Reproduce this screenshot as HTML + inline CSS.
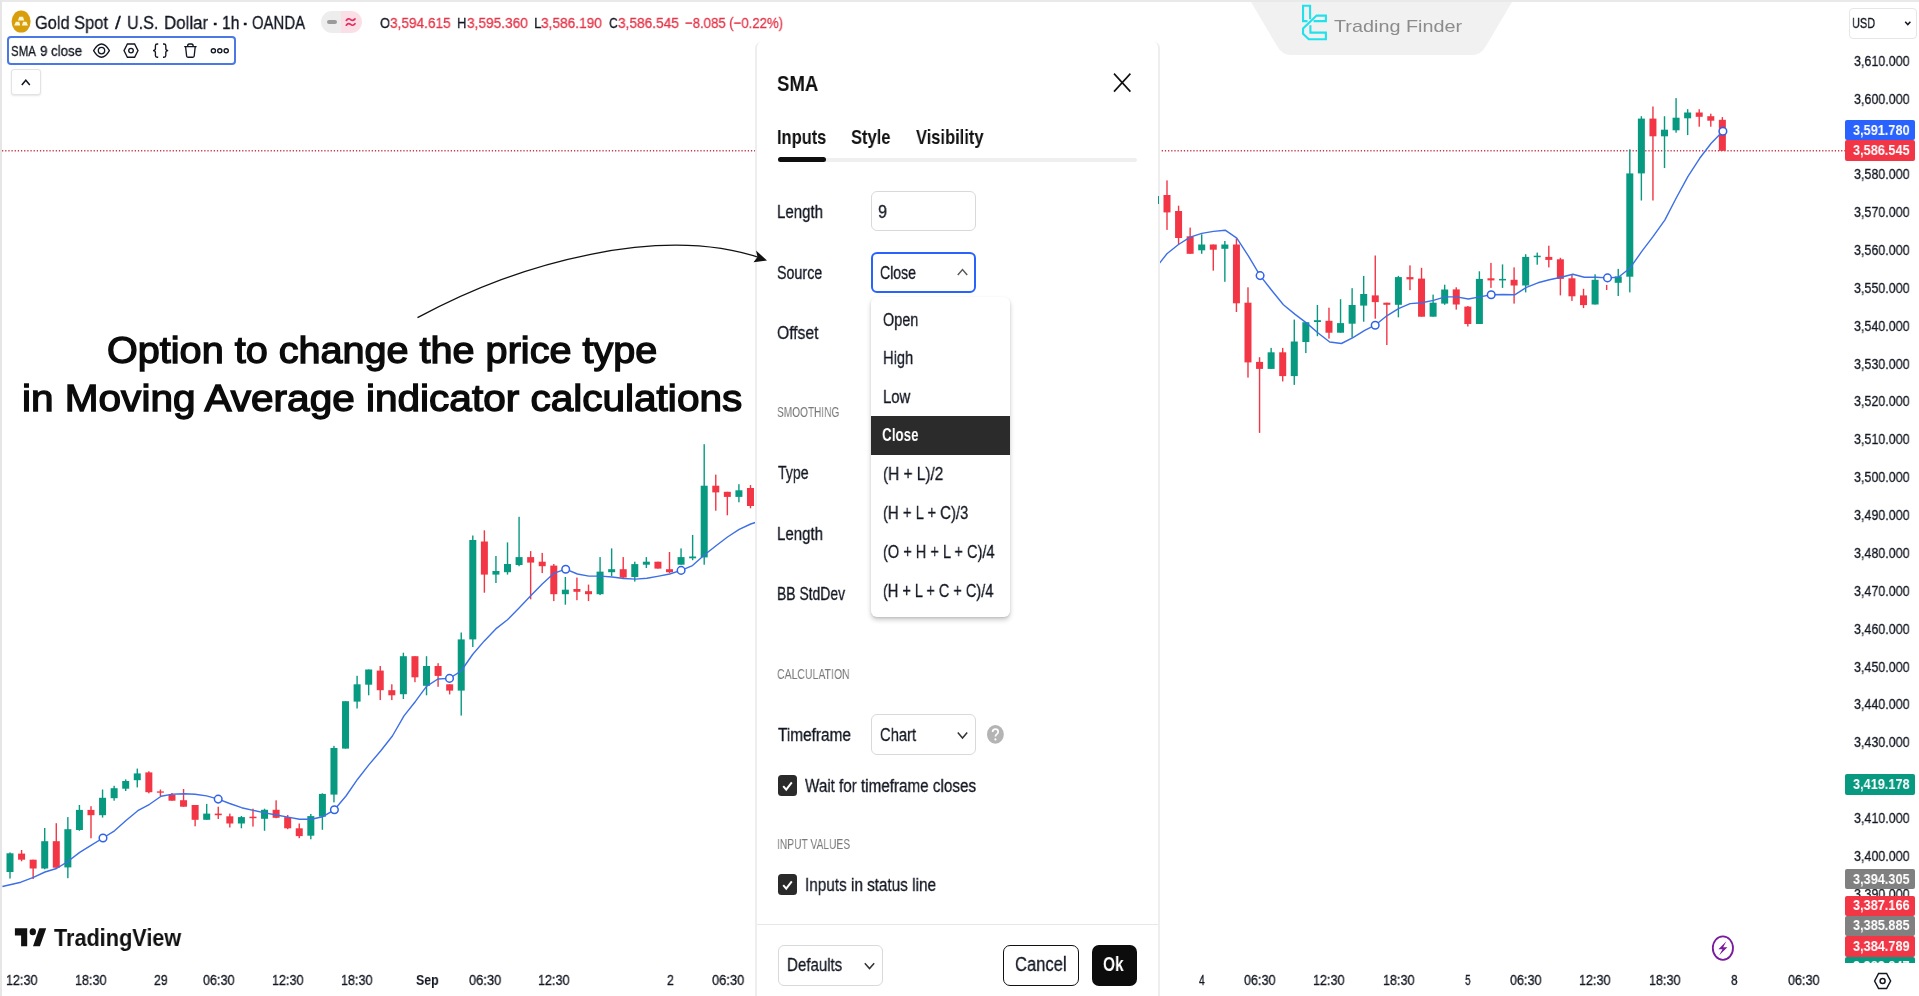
<!DOCTYPE html>
<html><head><meta charset="utf-8"><title>SMA source</title>
<style>
html,body{margin:0;padding:0;background:#fff;}
html{width:1919px;height:996px;overflow:hidden;}
body{width:1919px;height:996px;overflow:hidden;position:relative;font-family:"Liberation Sans",sans-serif;}
.abs{position:absolute;}
.t{position:absolute;white-space:pre;line-height:1;transform-origin:0 0;font-family:"Liberation Sans",sans-serif;will-change:transform;}
</style></head>
<body>
<svg class="abs" style="left:0;top:0" width="1919" height="996" viewBox="0 0 1919 996">
<line x1="2" y1="150.7" x2="1845" y2="150.7" stroke="#c9384c" stroke-width="1.6" stroke-dasharray="1.25 1.91"/>
<rect x="9.30" y="852.4" width="1.4" height="26.1" fill="#089981"/>
<rect x="6.50" y="853.3" width="7" height="18.7" fill="#089981"/>
<rect x="20.87" y="850.0" width="1.4" height="11.3" fill="#f23645"/>
<rect x="18.07" y="853.6" width="7" height="6.1" fill="#f23645"/>
<rect x="32.44" y="859.7" width="1.4" height="19.3" fill="#f23645"/>
<rect x="29.64" y="859.7" width="7" height="8.8" fill="#f23645"/>
<rect x="44.01" y="828.0" width="1.4" height="41.3" fill="#089981"/>
<rect x="41.21" y="841.2" width="7" height="27.3" fill="#089981"/>
<rect x="55.58" y="823.2" width="1.4" height="44.5" fill="#f23645"/>
<rect x="52.78" y="841.2" width="7" height="26.5" fill="#f23645"/>
<rect x="67.15" y="817.1" width="1.4" height="61.1" fill="#089981"/>
<rect x="64.35" y="829.2" width="7" height="38.2" fill="#089981"/>
<rect x="78.72" y="805.0" width="1.4" height="25.8" fill="#089981"/>
<rect x="75.92" y="809.9" width="7" height="20.1" fill="#089981"/>
<rect x="90.29" y="806.2" width="1.4" height="32.1" fill="#f23645"/>
<rect x="87.49" y="809.9" width="7" height="5.3" fill="#f23645"/>
<rect x="101.86" y="789.5" width="1.4" height="28.1" fill="#089981"/>
<rect x="99.06" y="797.8" width="7" height="17.4" fill="#089981"/>
<rect x="113.43" y="785.8" width="1.4" height="14.9" fill="#089981"/>
<rect x="110.63" y="788.2" width="7" height="10.0" fill="#089981"/>
<rect x="125.00" y="779.4" width="1.4" height="11.6" fill="#089981"/>
<rect x="122.20" y="781.0" width="7" height="7.7" fill="#089981"/>
<rect x="136.57" y="768.6" width="1.4" height="18.8" fill="#089981"/>
<rect x="133.77" y="773.4" width="7" height="6.8" fill="#089981"/>
<rect x="148.14" y="771.3" width="1.4" height="22.0" fill="#f23645"/>
<rect x="145.34" y="772.4" width="7" height="19.8" fill="#f23645"/>
<rect x="159.71" y="789.5" width="1.4" height="6.7" fill="#f23645"/>
<rect x="156.91" y="791.4" width="7" height="1.3" fill="#f23645"/>
<rect x="171.28" y="793.0" width="1.4" height="7.7" fill="#f23645"/>
<rect x="168.48" y="794.6" width="7" height="6.1" fill="#f23645"/>
<rect x="182.85" y="789.0" width="1.4" height="17.7" fill="#f23645"/>
<rect x="180.05" y="800.2" width="7" height="6.5" fill="#f23645"/>
<rect x="194.42" y="805.0" width="1.4" height="21.3" fill="#f23645"/>
<rect x="191.62" y="805.0" width="7" height="14.8" fill="#f23645"/>
<rect x="205.99" y="803.9" width="1.4" height="15.9" fill="#089981"/>
<rect x="203.19" y="813.6" width="7" height="6.2" fill="#089981"/>
<rect x="217.56" y="806.7" width="1.4" height="12.3" fill="#f23645"/>
<rect x="214.76" y="813.6" width="7" height="1.6" fill="#f23645"/>
<rect x="229.13" y="813.6" width="1.4" height="13.9" fill="#f23645"/>
<rect x="226.33" y="816.3" width="7" height="7.2" fill="#f23645"/>
<rect x="240.70" y="816.0" width="1.4" height="12.3" fill="#089981"/>
<rect x="237.90" y="817.1" width="7" height="6.4" fill="#089981"/>
<rect x="252.27" y="808.7" width="1.4" height="17.9" fill="#f23645"/>
<rect x="249.47" y="816.7" width="7" height="1.5" fill="#f23645"/>
<rect x="263.84" y="808.7" width="1.4" height="22.1" fill="#089981"/>
<rect x="261.04" y="809.8" width="7" height="9.0" fill="#089981"/>
<rect x="275.41" y="800.3" width="1.4" height="17.9" fill="#f23645"/>
<rect x="272.61" y="809.8" width="7" height="8.0" fill="#f23645"/>
<rect x="286.98" y="815.0" width="1.4" height="14.2" fill="#f23645"/>
<rect x="284.18" y="817.1" width="7" height="11.2" fill="#f23645"/>
<rect x="298.55" y="823.5" width="1.4" height="14.7" fill="#f23645"/>
<rect x="295.75" y="828.3" width="7" height="7.8" fill="#f23645"/>
<rect x="310.12" y="814.0" width="1.4" height="25.3" fill="#089981"/>
<rect x="307.32" y="816.1" width="7" height="19.6" fill="#089981"/>
<rect x="321.69" y="793.3" width="1.4" height="36.5" fill="#089981"/>
<rect x="318.89" y="793.9" width="7" height="22.8" fill="#089981"/>
<rect x="333.26" y="745.9" width="1.4" height="56.5" fill="#089981"/>
<rect x="330.46" y="748.0" width="7" height="46.6" fill="#089981"/>
<rect x="344.83" y="701.2" width="1.4" height="47.4" fill="#089981"/>
<rect x="342.03" y="701.2" width="7" height="47.4" fill="#089981"/>
<rect x="356.40" y="675.8" width="1.4" height="32.7" fill="#089981"/>
<rect x="353.60" y="684.3" width="7" height="17.3" fill="#089981"/>
<rect x="367.97" y="669.5" width="1.4" height="25.8" fill="#089981"/>
<rect x="365.17" y="669.5" width="7" height="15.2" fill="#089981"/>
<rect x="379.54" y="666.0" width="1.4" height="34.1" fill="#f23645"/>
<rect x="376.74" y="670.6" width="7" height="19.6" fill="#f23645"/>
<rect x="391.11" y="684.3" width="1.4" height="15.8" fill="#f23645"/>
<rect x="388.31" y="690.2" width="7" height="5.1" fill="#f23645"/>
<rect x="402.68" y="652.7" width="1.4" height="46.3" fill="#089981"/>
<rect x="399.88" y="656.2" width="7" height="38.0" fill="#089981"/>
<rect x="414.25" y="656.2" width="1.4" height="26.0" fill="#f23645"/>
<rect x="411.45" y="656.2" width="7" height="21.1" fill="#f23645"/>
<rect x="425.82" y="656.2" width="1.4" height="39.1" fill="#089981"/>
<rect x="423.02" y="666.0" width="7" height="19.8" fill="#089981"/>
<rect x="437.39" y="663.2" width="1.4" height="23.6" fill="#f23645"/>
<rect x="434.59" y="666.0" width="7" height="9.9" fill="#f23645"/>
<rect x="448.96" y="684.3" width="1.4" height="10.1" fill="#f23645"/>
<rect x="446.16" y="684.3" width="7" height="6.3" fill="#f23645"/>
<rect x="460.53" y="632.5" width="1.4" height="83.1" fill="#089981"/>
<rect x="457.73" y="639.4" width="7" height="51.2" fill="#089981"/>
<rect x="472.10" y="535.5" width="1.4" height="111.5" fill="#089981"/>
<rect x="469.30" y="540.0" width="7" height="99.4" fill="#089981"/>
<rect x="483.67" y="530.3" width="1.4" height="62.4" fill="#f23645"/>
<rect x="480.87" y="541.5" width="7" height="33.1" fill="#f23645"/>
<rect x="495.24" y="556.0" width="1.4" height="27.0" fill="#089981"/>
<rect x="492.44" y="571.0" width="7" height="3.6" fill="#089981"/>
<rect x="506.81" y="542.4" width="1.4" height="32.2" fill="#089981"/>
<rect x="504.01" y="564.0" width="7" height="8.2" fill="#089981"/>
<rect x="518.38" y="516.8" width="1.4" height="49.4" fill="#089981"/>
<rect x="515.58" y="557.1" width="7" height="7.9" fill="#089981"/>
<rect x="529.95" y="551.1" width="1.4" height="48.2" fill="#f23645"/>
<rect x="527.15" y="557.1" width="7" height="5.5" fill="#f23645"/>
<rect x="541.52" y="552.9" width="1.4" height="20.2" fill="#f23645"/>
<rect x="538.72" y="561.7" width="7" height="4.5" fill="#f23645"/>
<rect x="553.09" y="564.0" width="1.4" height="37.1" fill="#f23645"/>
<rect x="550.29" y="565.6" width="7" height="28.6" fill="#f23645"/>
<rect x="564.66" y="577.0" width="1.4" height="27.7" fill="#089981"/>
<rect x="561.86" y="589.7" width="7" height="4.5" fill="#089981"/>
<rect x="576.23" y="577.6" width="1.4" height="22.6" fill="#f23645"/>
<rect x="573.43" y="589.0" width="7" height="2.8" fill="#f23645"/>
<rect x="587.80" y="584.6" width="1.4" height="16.5" fill="#f23645"/>
<rect x="585.00" y="591.2" width="7" height="3.0" fill="#f23645"/>
<rect x="599.37" y="557.1" width="1.4" height="38.0" fill="#089981"/>
<rect x="596.57" y="571.6" width="7" height="22.6" fill="#089981"/>
<rect x="610.94" y="548.4" width="1.4" height="27.7" fill="#089981"/>
<rect x="608.14" y="569.2" width="7" height="3.0" fill="#089981"/>
<rect x="622.51" y="557.1" width="1.4" height="22.0" fill="#f23645"/>
<rect x="619.71" y="569.2" width="7" height="8.4" fill="#f23645"/>
<rect x="634.08" y="561.7" width="1.4" height="19.9" fill="#089981"/>
<rect x="631.28" y="564.1" width="7" height="12.9" fill="#089981"/>
<rect x="645.65" y="557.1" width="1.4" height="10.9" fill="#089981"/>
<rect x="642.85" y="561.7" width="7" height="3.0" fill="#089981"/>
<rect x="657.22" y="561.7" width="1.4" height="6.9" fill="#f23645"/>
<rect x="654.42" y="561.7" width="7" height="6.9" fill="#f23645"/>
<rect x="668.79" y="552.0" width="1.4" height="21.1" fill="#f23645"/>
<rect x="665.99" y="569.2" width="7" height="3.0" fill="#f23645"/>
<rect x="680.36" y="548.4" width="1.4" height="16.3" fill="#089981"/>
<rect x="677.56" y="557.1" width="7" height="7.6" fill="#089981"/>
<rect x="691.93" y="534.9" width="1.4" height="25.3" fill="#089981"/>
<rect x="689.13" y="556.5" width="7" height="1.8" fill="#089981"/>
<rect x="703.50" y="444.2" width="1.4" height="120.5" fill="#089981"/>
<rect x="700.70" y="485.7" width="7" height="71.7" fill="#089981"/>
<rect x="715.07" y="474.6" width="1.4" height="36.1" fill="#f23645"/>
<rect x="712.27" y="485.7" width="7" height="6.7" fill="#f23645"/>
<rect x="726.64" y="491.8" width="1.4" height="23.5" fill="#f23645"/>
<rect x="723.84" y="491.8" width="7" height="5.1" fill="#f23645"/>
<rect x="738.21" y="484.2" width="1.4" height="18.1" fill="#089981"/>
<rect x="735.41" y="490.3" width="7" height="6.6" fill="#089981"/>
<rect x="749.78" y="485.1" width="1.4" height="23.2" fill="#f23645"/>
<rect x="746.98" y="488.0" width="7" height="18.0" fill="#f23645"/>
<rect x="1154.73" y="190.0" width="1.4" height="16.0" fill="#089981"/>
<rect x="1151.93" y="196.4" width="7" height="7.9" fill="#089981"/>
<rect x="1166.30" y="180.4" width="1.4" height="49.5" fill="#f23645"/>
<rect x="1163.50" y="195.0" width="7" height="17.4" fill="#f23645"/>
<rect x="1177.87" y="205.7" width="1.4" height="38.8" fill="#f23645"/>
<rect x="1175.07" y="211.0" width="7" height="27.0" fill="#f23645"/>
<rect x="1189.44" y="227.6" width="1.4" height="26.2" fill="#f23645"/>
<rect x="1186.64" y="236.3" width="7" height="17.5" fill="#f23645"/>
<rect x="1201.01" y="234.3" width="1.4" height="19.5" fill="#089981"/>
<rect x="1198.21" y="244.5" width="7" height="5.8" fill="#089981"/>
<rect x="1212.58" y="244.5" width="1.4" height="26.2" fill="#f23645"/>
<rect x="1209.78" y="244.5" width="7" height="5.2" fill="#f23645"/>
<rect x="1224.15" y="241.0" width="1.4" height="40.8" fill="#089981"/>
<rect x="1221.35" y="244.5" width="7" height="4.3" fill="#089981"/>
<rect x="1235.72" y="238.6" width="1.4" height="73.4" fill="#f23645"/>
<rect x="1232.92" y="244.5" width="7" height="58.8" fill="#f23645"/>
<rect x="1247.29" y="287.3" width="1.4" height="90.3" fill="#f23645"/>
<rect x="1244.49" y="302.7" width="7" height="59.7" fill="#f23645"/>
<rect x="1258.86" y="357.2" width="1.4" height="75.7" fill="#f23645"/>
<rect x="1256.06" y="361.9" width="7" height="7.0" fill="#f23645"/>
<rect x="1270.43" y="347.9" width="1.4" height="21.0" fill="#089981"/>
<rect x="1267.63" y="352.3" width="7" height="16.6" fill="#089981"/>
<rect x="1282.00" y="347.9" width="1.4" height="33.5" fill="#f23645"/>
<rect x="1279.20" y="352.3" width="7" height="23.8" fill="#f23645"/>
<rect x="1293.57" y="319.6" width="1.4" height="65.3" fill="#089981"/>
<rect x="1290.77" y="341.5" width="7" height="34.6" fill="#089981"/>
<rect x="1305.14" y="322.2" width="1.4" height="30.9" fill="#089981"/>
<rect x="1302.34" y="322.2" width="7" height="19.8" fill="#089981"/>
<rect x="1316.71" y="305.0" width="1.4" height="31.2" fill="#089981"/>
<rect x="1313.91" y="320.2" width="7" height="1.8" fill="#089981"/>
<rect x="1328.28" y="307.7" width="1.4" height="30.9" fill="#f23645"/>
<rect x="1325.48" y="320.8" width="7" height="11.9" fill="#f23645"/>
<rect x="1339.85" y="299.2" width="1.4" height="33.5" fill="#089981"/>
<rect x="1337.05" y="323.1" width="7" height="9.6" fill="#089981"/>
<rect x="1351.42" y="288.2" width="1.4" height="49.5" fill="#089981"/>
<rect x="1348.62" y="305.0" width="7" height="18.7" fill="#089981"/>
<rect x="1362.99" y="275.9" width="1.4" height="45.8" fill="#089981"/>
<rect x="1360.19" y="294.0" width="7" height="11.6" fill="#089981"/>
<rect x="1374.56" y="255.5" width="1.4" height="63.2" fill="#f23645"/>
<rect x="1371.76" y="295.4" width="7" height="6.7" fill="#f23645"/>
<rect x="1386.13" y="302.7" width="1.4" height="42.3" fill="#f23645"/>
<rect x="1383.33" y="302.7" width="7" height="2.1" fill="#f23645"/>
<rect x="1397.70" y="275.9" width="1.4" height="41.4" fill="#089981"/>
<rect x="1394.90" y="277.1" width="7" height="27.7" fill="#089981"/>
<rect x="1409.27" y="265.4" width="1.4" height="24.8" fill="#f23645"/>
<rect x="1406.47" y="277.1" width="7" height="2.3" fill="#f23645"/>
<rect x="1420.84" y="267.8" width="1.4" height="48.9" fill="#f23645"/>
<rect x="1418.04" y="278.6" width="7" height="38.1" fill="#f23645"/>
<rect x="1432.41" y="294.6" width="1.4" height="22.1" fill="#089981"/>
<rect x="1429.61" y="302.7" width="7" height="14.0" fill="#089981"/>
<rect x="1443.98" y="284.7" width="1.4" height="20.1" fill="#089981"/>
<rect x="1441.18" y="289.5" width="7" height="14.1" fill="#089981"/>
<rect x="1455.55" y="287.3" width="1.4" height="22.3" fill="#f23645"/>
<rect x="1452.75" y="289.4" width="7" height="15.1" fill="#f23645"/>
<rect x="1467.12" y="306.0" width="1.4" height="20.5" fill="#f23645"/>
<rect x="1464.32" y="306.6" width="7" height="17.4" fill="#f23645"/>
<rect x="1478.69" y="271.3" width="1.4" height="52.7" fill="#089981"/>
<rect x="1475.89" y="278.9" width="7" height="45.1" fill="#089981"/>
<rect x="1490.26" y="262.9" width="1.4" height="25.0" fill="#f23645"/>
<rect x="1487.46" y="278.3" width="7" height="2.1" fill="#f23645"/>
<rect x="1501.83" y="264.4" width="1.4" height="23.5" fill="#089981"/>
<rect x="1499.03" y="278.9" width="7" height="1.5" fill="#089981"/>
<rect x="1513.40" y="267.4" width="1.4" height="36.2" fill="#f23645"/>
<rect x="1510.60" y="279.8" width="7" height="5.7" fill="#f23645"/>
<rect x="1524.97" y="254.2" width="1.4" height="38.2" fill="#089981"/>
<rect x="1522.17" y="256.9" width="7" height="28.6" fill="#089981"/>
<rect x="1536.54" y="252.6" width="1.4" height="12.1" fill="#089981"/>
<rect x="1533.74" y="255.7" width="7" height="1.5" fill="#089981"/>
<rect x="1548.11" y="245.7" width="1.4" height="21.7" fill="#f23645"/>
<rect x="1545.31" y="256.9" width="7" height="3.0" fill="#f23645"/>
<rect x="1559.68" y="257.8" width="1.4" height="37.6" fill="#f23645"/>
<rect x="1556.88" y="259.3" width="7" height="19.6" fill="#f23645"/>
<rect x="1571.25" y="274.3" width="1.4" height="26.6" fill="#f23645"/>
<rect x="1568.45" y="278.3" width="7" height="18.0" fill="#f23645"/>
<rect x="1582.82" y="288.8" width="1.4" height="19.3" fill="#f23645"/>
<rect x="1580.02" y="295.4" width="7" height="9.7" fill="#f23645"/>
<rect x="1594.39" y="274.3" width="1.4" height="30.2" fill="#089981"/>
<rect x="1591.59" y="279.8" width="7" height="24.7" fill="#089981"/>
<rect x="1605.96" y="284.9" width="1.4" height="5.1" fill="#f23645"/>
<rect x="1617.53" y="268.9" width="1.4" height="27.1" fill="#089981"/>
<rect x="1614.73" y="276.4" width="7" height="6.4" fill="#089981"/>
<rect x="1629.10" y="149.3" width="1.4" height="143.1" fill="#089981"/>
<rect x="1626.30" y="173.4" width="7" height="103.3" fill="#089981"/>
<rect x="1640.67" y="116.2" width="1.4" height="84.3" fill="#089981"/>
<rect x="1637.87" y="118.6" width="7" height="54.8" fill="#089981"/>
<rect x="1652.24" y="106.5" width="1.4" height="94.0" fill="#f23645"/>
<rect x="1649.44" y="118.6" width="7" height="17.7" fill="#f23645"/>
<rect x="1663.81" y="116.2" width="1.4" height="51.8" fill="#089981"/>
<rect x="1661.01" y="129.7" width="7" height="6.6" fill="#089981"/>
<rect x="1675.38" y="98.1" width="1.4" height="34.6" fill="#089981"/>
<rect x="1672.58" y="117.7" width="7" height="12.6" fill="#089981"/>
<rect x="1686.95" y="109.2" width="1.4" height="25.9" fill="#089981"/>
<rect x="1684.15" y="112.5" width="7" height="5.8" fill="#089981"/>
<rect x="1698.52" y="109.2" width="1.4" height="17.5" fill="#f23645"/>
<rect x="1695.72" y="112.5" width="7" height="4.3" fill="#f23645"/>
<rect x="1710.09" y="113.7" width="1.4" height="13.0" fill="#f23645"/>
<rect x="1707.29" y="116.2" width="7" height="4.5" fill="#f23645"/>
<rect x="1721.66" y="117.1" width="1.4" height="33.7" fill="#f23645"/>
<rect x="1718.86" y="119.8" width="7" height="31.0" fill="#f23645"/>
<path d="M2.4,886.5 L20.9,882.2 L33.4,877.3 L45.0,872.0 L56.5,868.5 L68.1,861.3 L79.7,852.4 L91.4,845.2 L103.0,838.0 L114.5,830.8 L126.3,820.3 L137.8,810.7 L149.6,804.3 L161.1,796.2 L172.7,794.1 L184.4,793.8 L195.0,794.3 L206.6,795.9 L218.2,799.1 L229.7,803.5 L241.6,807.7 L253.2,810.4 L264.8,812.9 L276.4,815.0 L288.0,817.1 L299.6,819.2 L311.2,819.2 L322.8,816.7 L334.4,809.8 L346.0,796.0 L357.6,779.2 L369.2,764.4 L380.8,750.7 L392.4,736.0 L404.0,715.9 L415.6,701.2 L426.5,686.4 L437.9,679.0 L449.5,678.4 L461.1,671.0 L472.6,654.5 L484.3,640.9 L495.8,628.9 L507.5,619.8 L519.3,607.8 L530.7,595.7 L542.5,583.7 L554.2,573.1 L565.7,569.2 L577.4,574.0 L588.9,576.1 L600.6,576.1 L612.1,577.0 L623.8,578.5 L635.6,579.1 L647.0,578.2 L658.8,576.1 L669.6,574.0 L681.1,570.4 L692.5,565.6 L704.3,555.0 L715.7,546.0 L727.5,537.0 L739.2,529.4 L750.7,524.0 L760.0,521.0" fill="none" stroke="#3d6fe6" stroke-width="1.4" stroke-linejoin="round"/>
<path d="M1150.0,275.0 L1158.2,264.9 L1166.9,253.8 L1178.5,244.5 L1190.2,237.2 L1201.8,233.4 L1213.5,231.4 L1225.2,230.2 L1236.8,238.1 L1248.5,256.1 L1260.1,275.6 L1271.8,290.5 L1283.4,304.8 L1295.1,314.4 L1306.7,323.1 L1318.4,333.3 L1329.7,342.0 L1341.4,343.5 L1353.0,337.7 L1364.7,330.4 L1375.2,325.2 L1386.8,315.8 L1398.5,308.6 L1410.1,303.6 L1421.8,302.7 L1433.4,300.4 L1445.1,296.9 L1456.6,296.9 L1468.3,299.0 L1479.8,296.9 L1491.2,294.8 L1503.0,294.5 L1514.7,294.8 L1526.5,287.3 L1537.9,282.8 L1549.4,279.8 L1561.1,277.3 L1572.9,274.3 L1584.3,277.3 L1596.1,277.3 L1607.5,277.9 L1618.4,277.3 L1629.8,268.3 L1641.6,251.7 L1653.0,236.7 L1664.8,220.1 L1676.5,197.5 L1688.0,176.4 L1699.7,158.3 L1711.2,143.3 L1722.9,131.2" fill="none" stroke="#3d6fe6" stroke-width="1.4" stroke-linejoin="round"/>
<circle cx="103.0" cy="838.0" r="3.8" fill="#fff" stroke="#2f62e8" stroke-width="1.5"/>
<circle cx="218.2" cy="799.1" r="3.8" fill="#fff" stroke="#2f62e8" stroke-width="1.5"/>
<circle cx="334.4" cy="809.8" r="3.8" fill="#fff" stroke="#2f62e8" stroke-width="1.5"/>
<circle cx="449.5" cy="678.4" r="3.8" fill="#fff" stroke="#2f62e8" stroke-width="1.5"/>
<circle cx="565.7" cy="569.2" r="3.8" fill="#fff" stroke="#2f62e8" stroke-width="1.5"/>
<circle cx="681.1" cy="570.4" r="3.8" fill="#fff" stroke="#2f62e8" stroke-width="1.5"/>
<circle cx="1260.1" cy="275.6" r="3.8" fill="#fff" stroke="#2f62e8" stroke-width="1.5"/>
<circle cx="1375.2" cy="325.2" r="3.8" fill="#fff" stroke="#2f62e8" stroke-width="1.5"/>
<circle cx="1491.2" cy="294.8" r="3.8" fill="#fff" stroke="#2f62e8" stroke-width="1.5"/>
<circle cx="1607.5" cy="277.9" r="3.8" fill="#fff" stroke="#2f62e8" stroke-width="1.5"/>
<circle cx="1722.9" cy="131.2" r="3.8" fill="#fff" stroke="#2f62e8" stroke-width="1.5"/>
<ellipse cx="1722.9" cy="948.1" rx="10.1" ry="11.8" fill="none" stroke="#7a1a9e" stroke-width="1.8"/><path d="M1726.4,941.3 L1718.4,949.2 L1722.5,949.2 L1719.2,955.2 L1727.4,947.3 L1723.2,947.3 Z" fill="#7a1a9e"/>
<g transform="translate(1882.6,981)" fill="none" stroke="#131722" stroke-width="1.5"><path d="M-8,0 L-4,-7.6 L4,-7.6 L8,0 L4,7.6 L-4,7.6 Z"/><circle r="2.5"/></g>
</svg>
<div class="abs" style="left:0;top:0;width:1919px;height:2px;background:#e9e9e9"></div>
<div class="abs" style="left:0;top:0;width:2px;height:996px;background:#e6e6e6"></div>
<svg class="abs" style="left:1240px;top:0" width="300" height="70" viewBox="1240 0 300 70"><path d="M1251,2 L1512,2 L1486,46 Q1481,55 1472,55 L1291,55 Q1282,55 1277,46 Z" fill="#f1f1f1"/><g fill="none" stroke="#22e1ea" stroke-width="2.1" stroke-linejoin="miter"><path d="M1307.5,21.1 L1303.05,21.1 L1303.05,5.8 L1310.1,5.8 L1310.1,19.3"/><path d="M1313.6,21.1 L1325.9,21.1 L1325.9,15.6 L1316.6,15.6 L1303.05,28.4 L1303.05,33.8 L1308.8,39.2 L1325.9,39.2 L1325.9,32.6 L1310.4,32.6 L1310.4,25.3"/></g></svg>
<svg class="abs" style="left:10px;top:9px" width="24" height="26" viewBox="10 9 24 26"><ellipse cx="21.1" cy="21.6" rx="9.5" ry="11" fill="#d99e0b"/><path d="M19.3,16.8 L23,16.8 L24.2,20.4 L18,20.4 Z M15.9,21.8 L19.2,21.8 L20.3,25.4 L14.2,25.4 Z M23.1,21.8 L26.4,21.8 L27.9,25.4 L21.9,25.4 Z" fill="#fff8d8"/></svg>
<div class="abs" style="left:320.6px;top:11px;width:41.4px;height:21.8px;border-radius:11px;background:linear-gradient(90deg,#ededed 0,#ededed 48%,#fbdfe6 48%,#fbdfe6 100%)"></div>
<div class="abs" style="left:326.9px;top:19.7px;width:10.3px;height:4.3px;border-radius:2.2px;background:#9b9b9b"></div>
<svg class="abs" style="left:344px;top:15px" width="14" height="14" viewBox="344 15 14 14"><g fill="none" stroke="#e52e63" stroke-width="1.7" stroke-linecap="round"><path d="M346.3,20.4 Q348.4,17.6 350.6,19.6 T355,18.9"/><path d="M346.3,25.2 Q348.4,22.4 350.6,24.4 T355,23.7"/></g></svg>
<div class="abs" style="left:6.5px;top:36.4px;width:225px;height:25px;border:2px solid #4a78e4;border-radius:4px;background:#fff"></div>
<svg class="abs" style="left:88px;top:40px" width="146" height="22" viewBox="88 40 146 22"><g fill="none" stroke="#131722" stroke-width="1.35"><path d="M93.6,50.6 C96.5,45.6 98.9,44 101.5,44 C104.1,44 106.5,45.6 109.4,50.6 C106.5,55.6 104.1,57.2 101.5,57.2 C98.9,57.2 96.5,55.6 93.6,50.6 Z"/><circle cx="101.5" cy="50.6" r="3.2"/><path d="M124,50.6 L127.4,44 L134.6,44 L138,50.6 L134.6,57.2 L127.4,57.2 Z"/><circle cx="131" cy="50.6" r="2.3"/><path d="M158.2,44 L157.2,44 Q155.4,44 155.4,45.8 L155.4,48.6 Q155.4,50.6 153,50.6 Q155.4,50.6 155.4,52.6 L155.4,55.4 Q155.4,57.2 157.2,57.2 L158.2,57.2"/><path d="M163,44 L164,44 Q165.8,44 165.8,45.8 L165.8,48.6 Q165.8,50.6 168.2,50.6 Q165.8,50.6 165.8,52.6 L165.8,55.4 Q165.8,57.2 164,57.2 L163,57.2"/><path d="M184.2,46.6 L196.6,46.6 M187.6,46.4 Q187.6,44 189.2,44 L191.6,44 Q193.2,44 193.2,46.4 M185.6,46.8 L186.6,56 Q186.7,57.2 187.9,57.2 L192.9,57.2 Q194.1,57.2 194.2,56 L195.2,46.8"/><circle cx="213.4" cy="50.8" r="2.1"/><circle cx="219.8" cy="50.8" r="2.1"/><circle cx="226.2" cy="50.8" r="2.1"/></g></svg>
<div class="abs" style="left:11px;top:69.4px;width:28.4px;height:23.2px;border:1px solid #e3e3e3;border-radius:3px;background:#fff;box-shadow:0 1px 2px rgba(0,0,0,.10)"></div>
<svg class="abs" style="left:18px;top:76px" width="16" height="13" viewBox="18 76 16 13"><path d="M21.8,85 L25.8,80.2 L29.8,85" fill="none" stroke="#131722" stroke-width="1.5"/></svg>
<div class="abs" style="left:1849px;top:7.5px;width:65.5px;height:29.2px;border:1px solid #e6e6e6;border-radius:4px;background:#fff"></div>
<svg class="abs" style="left:1902px;top:18px" width="12" height="10" viewBox="1902 18 12 10"><path d="M1905.2,21.8 L1907.8,24.6 L1910.4,21.8" fill="none" stroke="#131722" stroke-width="1.5"/></svg>
<svg class="abs" style="left:14px;top:926px" width="36" height="24" viewBox="14 926 36 24"><path d="M14.9,928.3 L27.2,928.3 L27.2,946.2 L21.1,946.2 L21.1,935.5 L14.9,935.5 Z" fill="#111"/><ellipse cx="32.8" cy="931.8" rx="3.2" ry="3.5" fill="#111"/><path d="M39.3,928.3 L46.2,928.3 L39.9,946.2 L33,946.2 Z" fill="#111"/></svg>
<span class="t" style="left:34.75px;top:13.93px;font-size:18.75px;font-weight:400;color:#131722;transform:scaleX(0.8743);-webkit-text-stroke:0.3px #131722;">Gold Spot</span>
<span class="t" style="left:114.85px;top:13.93px;font-size:18.75px;font-weight:400;color:#131722;transform:scaleX(1.1234);-webkit-text-stroke:0.3px #131722;">/</span>
<span class="t" style="left:127.25px;top:13.93px;font-size:18.75px;font-weight:400;color:#131722;transform:scaleX(0.8604);-webkit-text-stroke:0.3px #131722;">U.S.</span>
<span class="t" style="left:163.65px;top:13.93px;font-size:18.75px;font-weight:400;color:#131722;transform:scaleX(0.9000);-webkit-text-stroke:0.3px #131722;">Dollar</span>
<span class="t" style="left:211.45px;top:13.93px;font-size:18.75px;font-weight:400;color:#131722;transform:scaleX(1.3485);-webkit-text-stroke:0.3px #131722;">·</span>
<span class="t" style="left:222.05px;top:13.93px;font-size:18.75px;font-weight:400;color:#131722;transform:scaleX(0.8342);-webkit-text-stroke:0.3px #131722;">1h</span>
<span class="t" style="left:240.85px;top:13.93px;font-size:18.75px;font-weight:400;color:#131722;transform:scaleX(1.3485);-webkit-text-stroke:0.3px #131722;">·</span>
<span class="t" style="left:252.35px;top:13.93px;font-size:18.75px;font-weight:400;color:#131722;transform:scaleX(0.7948);-webkit-text-stroke:0.3px #131722;">OANDA</span>
<span class="t" style="left:380.40px;top:15.89px;font-size:14.9px;font-weight:400;color:#131722;transform:scaleX(0.8575);-webkit-text-stroke:0.3px #131722;">O</span>
<span class="t" style="left:390.00px;top:15.89px;font-size:14.9px;font-weight:400;color:#e5364a;transform:scaleX(0.9146);-webkit-text-stroke:0.3px #e5364a;">3,594.615</span>
<span class="t" style="left:456.90px;top:15.89px;font-size:14.9px;font-weight:400;color:#131722;transform:scaleX(0.8674);-webkit-text-stroke:0.3px #131722;">H</span>
<span class="t" style="left:467.20px;top:15.89px;font-size:14.9px;font-weight:400;color:#e5364a;transform:scaleX(0.9176);-webkit-text-stroke:0.3px #e5364a;">3,595.360</span>
<span class="t" style="left:534.10px;top:15.89px;font-size:14.9px;font-weight:400;color:#131722;transform:scaleX(0.9150);-webkit-text-stroke:0.3px #131722;">L</span>
<span class="t" style="left:541.00px;top:15.89px;font-size:14.9px;font-weight:400;color:#e5364a;transform:scaleX(0.9176);-webkit-text-stroke:0.3px #e5364a;">3,586.190</span>
<span class="t" style="left:609.00px;top:15.89px;font-size:14.9px;font-weight:400;color:#131722;transform:scaleX(0.8167);-webkit-text-stroke:0.3px #131722;">C</span>
<span class="t" style="left:618.10px;top:15.89px;font-size:14.9px;font-weight:400;color:#e5364a;transform:scaleX(0.9176);-webkit-text-stroke:0.3px #e5364a;">3,586.545</span>
<span class="t" style="left:685.00px;top:15.89px;font-size:14.9px;font-weight:400;color:#e5364a;transform:scaleX(0.8835);-webkit-text-stroke:0.3px #e5364a;">−8.085 (−0.22%)</span>
<span class="t" style="left:11.32px;top:44.23px;font-size:14.5px;font-weight:400;color:#131722;transform:scaleX(0.7912);-webkit-text-stroke:0.3px #131722;">SMA</span>
<span class="t" style="left:40.22px;top:44.23px;font-size:14.5px;font-weight:400;color:#131722;transform:scaleX(0.9235);-webkit-text-stroke:0.3px #131722;">9</span>
<span class="t" style="left:51.02px;top:44.23px;font-size:14.5px;font-weight:400;color:#131722;transform:scaleX(0.9201);-webkit-text-stroke:0.3px #131722;">close</span>
<span class="t" style="left:1852.12px;top:15.93px;font-size:14.5px;font-weight:400;color:#131722;transform:scaleX(0.7530);-webkit-text-stroke:0.3px #131722;">USD</span>
<span class="t" style="left:1854.41px;top:53.96px;font-size:14.7px;font-weight:400;color:#131722;transform:scaleX(0.8504);-webkit-text-stroke:0.3px #131722;">3,610.000</span>
<span class="t" style="left:1854.41px;top:91.70px;font-size:14.7px;font-weight:400;color:#131722;transform:scaleX(0.8504);-webkit-text-stroke:0.3px #131722;">3,600.000</span>
<span class="t" style="left:1854.41px;top:166.87px;font-size:14.7px;font-weight:400;color:#131722;transform:scaleX(0.8504);-webkit-text-stroke:0.3px #131722;">3,580.000</span>
<span class="t" style="left:1854.41px;top:204.74px;font-size:14.7px;font-weight:400;color:#131722;transform:scaleX(0.8504);-webkit-text-stroke:0.3px #131722;">3,570.000</span>
<span class="t" style="left:1854.41px;top:242.61px;font-size:14.7px;font-weight:400;color:#131722;transform:scaleX(0.8504);-webkit-text-stroke:0.3px #131722;">3,560.000</span>
<span class="t" style="left:1854.41px;top:281.40px;font-size:14.7px;font-weight:400;color:#131722;transform:scaleX(0.8504);-webkit-text-stroke:0.3px #131722;">3,550.000</span>
<span class="t" style="left:1854.41px;top:319.14px;font-size:14.7px;font-weight:400;color:#131722;transform:scaleX(0.8504);-webkit-text-stroke:0.3px #131722;">3,540.000</span>
<span class="t" style="left:1854.41px;top:356.88px;font-size:14.7px;font-weight:400;color:#131722;transform:scaleX(0.8504);-webkit-text-stroke:0.3px #131722;">3,530.000</span>
<span class="t" style="left:1854.41px;top:394.09px;font-size:14.7px;font-weight:400;color:#131722;transform:scaleX(0.8504);-webkit-text-stroke:0.3px #131722;">3,520.000</span>
<span class="t" style="left:1854.41px;top:431.96px;font-size:14.7px;font-weight:400;color:#131722;transform:scaleX(0.8504);-webkit-text-stroke:0.3px #131722;">3,510.000</span>
<span class="t" style="left:1854.41px;top:469.83px;font-size:14.7px;font-weight:400;color:#131722;transform:scaleX(0.8504);-webkit-text-stroke:0.3px #131722;">3,500.000</span>
<span class="t" style="left:1854.41px;top:507.70px;font-size:14.7px;font-weight:400;color:#131722;transform:scaleX(0.8504);-webkit-text-stroke:0.3px #131722;">3,490.000</span>
<span class="t" style="left:1854.41px;top:545.57px;font-size:14.7px;font-weight:400;color:#131722;transform:scaleX(0.8504);-webkit-text-stroke:0.3px #131722;">3,480.000</span>
<span class="t" style="left:1854.41px;top:584.32px;font-size:14.7px;font-weight:400;color:#131722;transform:scaleX(0.8504);-webkit-text-stroke:0.3px #131722;">3,470.000</span>
<span class="t" style="left:1854.41px;top:622.06px;font-size:14.7px;font-weight:400;color:#131722;transform:scaleX(0.8504);-webkit-text-stroke:0.3px #131722;">3,460.000</span>
<span class="t" style="left:1854.41px;top:659.80px;font-size:14.7px;font-weight:400;color:#131722;transform:scaleX(0.8504);-webkit-text-stroke:0.3px #131722;">3,450.000</span>
<span class="t" style="left:1854.41px;top:697.05px;font-size:14.7px;font-weight:400;color:#131722;transform:scaleX(0.8504);-webkit-text-stroke:0.3px #131722;">3,440.000</span>
<span class="t" style="left:1854.41px;top:734.92px;font-size:14.7px;font-weight:400;color:#131722;transform:scaleX(0.8504);-webkit-text-stroke:0.3px #131722;">3,430.000</span>
<span class="t" style="left:1854.41px;top:772.79px;font-size:14.7px;font-weight:400;color:#131722;transform:scaleX(0.8504);-webkit-text-stroke:0.3px #131722;">3,420.000</span>
<span class="t" style="left:1854.41px;top:810.66px;font-size:14.7px;font-weight:400;color:#131722;transform:scaleX(0.8504);-webkit-text-stroke:0.3px #131722;">3,410.000</span>
<span class="t" style="left:1854.41px;top:848.53px;font-size:14.7px;font-weight:400;color:#131722;transform:scaleX(0.8504);-webkit-text-stroke:0.3px #131722;">3,400.000</span>
<span class="t" style="left:1854.41px;top:887.24px;font-size:14.7px;font-weight:400;color:#131722;transform:scaleX(0.8504);-webkit-text-stroke:0.3px #131722;">3,390.000</span>
<span class="t" style="left:6.11px;top:972.95px;font-size:14px;font-weight:400;color:#131722;transform:scaleX(0.8994);-webkit-text-stroke:0.3px #131722;">12:30</span>
<span class="t" style="left:74.62px;top:972.95px;font-size:14px;font-weight:400;color:#131722;transform:scaleX(0.8994);-webkit-text-stroke:0.3px #131722;">18:30</span>
<span class="t" style="left:153.85px;top:972.95px;font-size:14px;font-weight:400;color:#131722;transform:scaleX(0.8807);-webkit-text-stroke:0.3px #131722;">29</span>
<span class="t" style="left:202.86px;top:972.95px;font-size:14px;font-weight:400;color:#131722;transform:scaleX(0.8996);-webkit-text-stroke:0.3px #131722;">06:30</span>
<span class="t" style="left:272.22px;top:972.95px;font-size:14px;font-weight:400;color:#131722;transform:scaleX(0.8994);-webkit-text-stroke:0.3px #131722;">12:30</span>
<span class="t" style="left:340.84px;top:972.95px;font-size:14px;font-weight:400;color:#131722;transform:scaleX(0.8994);-webkit-text-stroke:0.3px #131722;">18:30</span>
<span class="t" style="left:415.86px;top:972.95px;font-size:14px;font-weight:700;color:#131722;transform:scaleX(0.8875);">Sep</span>
<span class="t" style="left:469.08px;top:972.95px;font-size:14px;font-weight:400;color:#131722;transform:scaleX(0.9199);-webkit-text-stroke:0.3px #131722;">06:30</span>
<span class="t" style="left:538.33px;top:972.95px;font-size:14px;font-weight:400;color:#131722;transform:scaleX(0.8994);-webkit-text-stroke:0.3px #131722;">12:30</span>
<span class="t" style="left:667.22px;top:972.95px;font-size:14px;font-weight:400;color:#131722;transform:scaleX(0.8875);-webkit-text-stroke:0.3px #131722;">2</span>
<span class="t" style="left:712.02px;top:972.95px;font-size:14px;font-weight:400;color:#131722;transform:scaleX(0.9199);-webkit-text-stroke:0.3px #131722;">06:30</span>
<span class="t" style="left:1198.55px;top:972.95px;font-size:14px;font-weight:400;color:#131722;transform:scaleX(0.7354);-webkit-text-stroke:0.3px #131722;">4</span>
<span class="t" style="left:1244.46px;top:972.95px;font-size:14px;font-weight:400;color:#131722;transform:scaleX(0.8996);-webkit-text-stroke:0.3px #131722;">06:30</span>
<span class="t" style="left:1312.60px;top:972.95px;font-size:14px;font-weight:400;color:#131722;transform:scaleX(0.8994);-webkit-text-stroke:0.3px #131722;">12:30</span>
<span class="t" style="left:1382.94px;top:972.95px;font-size:14px;font-weight:400;color:#131722;transform:scaleX(0.8994);-webkit-text-stroke:0.3px #131722;">18:30</span>
<span class="t" style="left:1464.66px;top:972.95px;font-size:14px;font-weight:400;color:#131722;transform:scaleX(0.7354);-webkit-text-stroke:0.3px #131722;">5</span>
<span class="t" style="left:1509.56px;top:972.95px;font-size:14px;font-weight:400;color:#131722;transform:scaleX(0.8996);-webkit-text-stroke:0.3px #131722;">06:30</span>
<span class="t" style="left:1578.82px;top:972.95px;font-size:14px;font-weight:400;color:#131722;transform:scaleX(0.8994);-webkit-text-stroke:0.3px #131722;">12:30</span>
<span class="t" style="left:1649.05px;top:972.95px;font-size:14px;font-weight:400;color:#131722;transform:scaleX(0.8994);-webkit-text-stroke:0.3px #131722;">18:30</span>
<span class="t" style="left:1730.77px;top:972.95px;font-size:14px;font-weight:400;color:#131722;transform:scaleX(0.8530);-webkit-text-stroke:0.3px #131722;">8</span>
<span class="t" style="left:1788.04px;top:972.95px;font-size:14px;font-weight:400;color:#131722;transform:scaleX(0.8996);-webkit-text-stroke:0.3px #131722;">06:30</span>
<span class="t" style="left:107.29px;top:332.96px;font-size:36.9px;font-weight:400;color:#0b0b0b;transform:scaleX(1.0733);-webkit-text-stroke:1.35px #0b0b0b;">Option to change the price type</span>
<span class="t" style="left:21.89px;top:381.16px;font-size:36.9px;font-weight:400;color:#0b0b0b;transform:scaleX(1.0987);-webkit-text-stroke:1.35px #0b0b0b;">in Moving Average indicator calculations</span>
<span class="t" style="left:53.70px;top:925.61px;font-size:24.8px;font-weight:700;color:#111;transform:scaleX(0.8735);">TradingView</span>
<span class="t" style="left:1334.26px;top:17.61px;font-size:17px;font-weight:400;color:#8c8c8c;transform:scaleX(1.1652);">Trading Finder</span>
<div class="abs" style="left:1845px;top:120px;width:70px;height:20.3px;background:#2962ff;border-radius:2px"></div>
<div class="abs" style="left:1845px;top:140.35px;width:70px;height:20.3px;background:#f23645;border-radius:2px"></div>
<div class="abs" style="left:1845px;top:774.2px;width:70px;height:20.5px;background:#089981;border-radius:2px"></div>
<div class="abs" style="left:1845px;top:869.4px;width:70px;height:19.6px;background:#808080;border-radius:2px"></div>
<div class="abs" style="left:1845px;top:895.8px;width:70px;height:20.2px;background:#f23645;border-radius:2px"></div>
<div class="abs" style="left:1845px;top:916px;width:70px;height:20.2px;background:#808080;border-radius:2px"></div>
<div class="abs" style="left:1845px;top:936.2px;width:70px;height:21.2px;background:#f23645;border-radius:2px"></div>
<div class="abs" style="left:1845px;top:957.4px;width:70px;height:5.9px;background:#089981;border-radius:2px 2px 0 0"></div>
<div class="abs" style="left:755px;top:42px;width:400.6px;height:954px;background:#fff;border-left:2px solid #eeeeee;border-right:2px solid #eeeeee;border-radius:6px 6px 0 0"></div>
<svg class="abs" style="left:1110px;top:70px" width="24" height="26" viewBox="1110 70 24 26"><path d="M1114,73.6 L1130.4,91.6 M1130.4,73.6 L1114,91.6" stroke="#111" stroke-width="1.6" fill="none"/></svg>
<div class="abs" style="left:778px;top:157.6px;width:358.5px;height:4.2px;border-radius:2.1px;background:#efefef"></div>
<div class="abs" style="left:778px;top:157px;width:47.8px;height:5px;border-radius:2.5px;background:#0f0f0f"></div>
<div class="abs" style="left:871.25px;top:191.25px;width:102.5px;height:38px;border:1px solid #d9d9d9;border-radius:6px;background:#fff"></div>
<div class="abs" style="left:871.25px;top:252px;width:100.5px;height:36.5px;border:2px solid #2962ff;border-radius:6px;background:#fff"></div>
<svg class="abs" style="left:954px;top:264px" width="18" height="16" viewBox="954 264 18 16"><path d="M957.8,275 L962.5,269.6 L967.2,275" fill="none" stroke="#5b5b5b" stroke-width="1.5"/></svg>
<div class="abs" style="left:871.25px;top:714.25px;width:102.5px;height:38.3px;border:1px solid #d9d9d9;border-radius:6px;background:#fff"></div>
<svg class="abs" style="left:954px;top:727px" width="18" height="16" viewBox="954 727 18 16"><path d="M957.8,732.6 L962.5,738 L967.2,732.6" fill="none" stroke="#333" stroke-width="1.5"/></svg>
<svg class="abs" style="left:985px;top:723px" width="22" height="24" viewBox="985 723 22 24"><ellipse cx="995.4" cy="734.4" rx="8.4" ry="9.4" fill="#b4b4b4"/><path d="M992.6,732 Q992.6,729.2 995.4,729.2 Q998.2,729.2 998.2,731.8 Q998.2,733.4 996.6,734.4 Q995.4,735.2 995.4,736.6" fill="none" stroke="#fff" stroke-width="1.7"/><circle cx="995.4" cy="739.4" r="1.1" fill="#fff"/></svg>
<div class="abs" style="left:778px;top:774.5px;width:18.8px;height:21.2px;border-radius:3.5px;background:#2a2a2a"></div>
<svg class="abs" style="left:778px;top:774.5px" width="19" height="22" viewBox="0 0 19 22"><path d="M5.2,11.2 L8.2,14.6 L13.8,7.4" fill="none" stroke="#fff" stroke-width="2"/></svg>
<div class="abs" style="left:778px;top:874px;width:18.8px;height:21.2px;border-radius:3.5px;background:#2a2a2a"></div>
<svg class="abs" style="left:778px;top:874px" width="19" height="22" viewBox="0 0 19 22"><path d="M5.2,11.2 L8.2,14.6 L13.8,7.4" fill="none" stroke="#fff" stroke-width="2"/></svg>
<div class="abs" style="left:757px;top:924px;width:400.6px;height:1px;background:#e8e8e8"></div>
<div class="abs" style="left:778.25px;top:945.25px;width:102.3px;height:38.5px;border:1px solid #d9d9d9;border-radius:6px;background:#fff"></div>
<svg class="abs" style="left:861px;top:958px" width="18" height="16" viewBox="861 958 18 16"><path d="M864.8,963.2 L869.5,968.6 L874.2,963.2" fill="none" stroke="#333" stroke-width="1.5"/></svg>
<div class="abs" style="left:1002.5px;top:945.25px;width:74.3px;height:38.5px;border:1px solid #111;border-radius:7px;background:#fff"></div>
<div class="abs" style="left:1091.75px;top:945.25px;width:45px;height:40.5px;border-radius:7px;background:#0c0c0c"></div>
<div class="abs" style="left:870.75px;top:297px;width:139.25px;height:319.5px;border-radius:6px;background:#fff;box-shadow:0 3px 5px rgba(0,0,0,.20),0 1px 2px rgba(0,0,0,.10)"></div>
<div class="abs" style="left:870.75px;top:416.25px;width:139.25px;height:38.4px;background:#2b2b2b"></div>
<span class="t" style="left:777.08px;top:72.12px;font-size:22.9px;font-weight:700;color:#111;transform:scaleX(0.8124);">SMA</span>
<span class="t" style="left:777.23px;top:128.16px;font-size:19.3px;font-weight:700;color:#111;transform:scaleX(0.8522);">Inputs</span>
<span class="t" style="left:851.23px;top:128.16px;font-size:19.3px;font-weight:700;color:#111;transform:scaleX(0.8579);">Style</span>
<span class="t" style="left:915.98px;top:128.16px;font-size:19.3px;font-weight:700;color:#111;transform:scaleX(0.8555);">Visibility</span>
<span class="t" style="left:777.24px;top:203.00px;font-size:18.9px;font-weight:400;color:#131722;transform:scaleX(0.7963);-webkit-text-stroke:0.3px #131722;">Length</span>
<span class="t" style="left:878.49px;top:203.00px;font-size:18.9px;font-weight:400;color:#131722;transform:scaleX(0.8570);-webkit-text-stroke:0.3px #131722;">9</span>
<span class="t" style="left:777.24px;top:263.50px;font-size:18.9px;font-weight:400;color:#131722;transform:scaleX(0.7561);-webkit-text-stroke:0.3px #131722;">Source</span>
<span class="t" style="left:879.74px;top:263.50px;font-size:18.9px;font-weight:400;color:#131722;transform:scaleX(0.7456);-webkit-text-stroke:0.3px #131722;">Close</span>
<span class="t" style="left:777.24px;top:323.75px;font-size:18.9px;font-weight:400;color:#131722;transform:scaleX(0.8292);-webkit-text-stroke:0.3px #131722;">Offset</span>
<span class="t" style="left:777.45px;top:405.82px;font-size:13.8px;font-weight:400;color:#7a7a7a;transform:scaleX(0.7328);">SMOOTHING</span>
<span class="t" style="left:778.24px;top:463.50px;font-size:18.9px;font-weight:400;color:#131722;transform:scaleX(0.7444);-webkit-text-stroke:0.3px #131722;">Type</span>
<span class="t" style="left:777.24px;top:525.00px;font-size:18.9px;font-weight:400;color:#131722;transform:scaleX(0.7963);-webkit-text-stroke:0.3px #131722;">Length</span>
<span class="t" style="left:777.24px;top:585.00px;font-size:18.9px;font-weight:400;color:#131722;transform:scaleX(0.7360);-webkit-text-stroke:0.3px #131722;">BB StdDev</span>
<span class="t" style="left:777.45px;top:668.32px;font-size:13.8px;font-weight:400;color:#7a7a7a;transform:scaleX(0.7598);">CALCULATION</span>
<span class="t" style="left:778.24px;top:725.50px;font-size:18.9px;font-weight:400;color:#131722;transform:scaleX(0.8151);-webkit-text-stroke:0.3px #131722;">Timeframe</span>
<span class="t" style="left:879.74px;top:725.50px;font-size:18.9px;font-weight:400;color:#131722;transform:scaleX(0.7791);-webkit-text-stroke:0.3px #131722;">Chart</span>
<span class="t" style="left:804.74px;top:777.00px;font-size:18.9px;font-weight:400;color:#131722;transform:scaleX(0.8052);-webkit-text-stroke:0.3px #131722;">Wait for timeframe closes</span>
<span class="t" style="left:777.45px;top:837.82px;font-size:13.8px;font-weight:400;color:#7a7a7a;transform:scaleX(0.7429);">INPUT VALUES</span>
<span class="t" style="left:804.74px;top:875.75px;font-size:18.9px;font-weight:400;color:#131722;transform:scaleX(0.8101);-webkit-text-stroke:0.3px #131722;">Inputs in status line</span>
<span class="t" style="left:786.74px;top:955.75px;font-size:18.9px;font-weight:400;color:#131722;transform:scaleX(0.7973);-webkit-text-stroke:0.3px #131722;">Defaults</span>
<span class="t" style="left:1014.97px;top:954.66px;font-size:19.6px;font-weight:400;color:#131722;transform:scaleX(0.8454);-webkit-text-stroke:0.3px #131722;">Cancel</span>
<span class="t" style="left:1103.47px;top:954.66px;font-size:19.6px;font-weight:700;color:#fff;transform:scaleX(0.7878);">Ok</span>
<span class="t" style="left:882.99px;top:310.75px;font-size:18.9px;font-weight:400;color:#131722;transform:scaleX(0.7629);-webkit-text-stroke:0.3px #131722;">Open</span>
<span class="t" style="left:882.99px;top:348.50px;font-size:18.9px;font-weight:400;color:#131722;transform:scaleX(0.7788);-webkit-text-stroke:0.3px #131722;">High</span>
<span class="t" style="left:882.99px;top:388.00px;font-size:18.9px;font-weight:400;color:#131722;transform:scaleX(0.7866);-webkit-text-stroke:0.3px #131722;">Low</span>
<span class="t" style="left:882.49px;top:425.75px;font-size:18.9px;font-weight:700;color:#fff;transform:scaleX(0.7096);">Close</span>
<span class="t" style="left:883.12px;top:464.50px;font-size:18.9px;font-weight:400;color:#131722;transform:scaleX(0.8144);-webkit-text-stroke:0.3px #131722;">(H + L)/2</span>
<span class="t" style="left:883.12px;top:503.75px;font-size:18.9px;font-weight:400;color:#131722;transform:scaleX(0.7860);-webkit-text-stroke:0.3px #131722;">(H + L + C)/3</span>
<span class="t" style="left:883.12px;top:543.00px;font-size:18.9px;font-weight:400;color:#131722;transform:scaleX(0.7705);-webkit-text-stroke:0.3px #131722;">(O + H + L + C)/4</span>
<span class="t" style="left:883.12px;top:581.50px;font-size:18.9px;font-weight:400;color:#131722;transform:scaleX(0.7675);-webkit-text-stroke:0.3px #131722;">(H + L + C + C)/4</span>
<span class="t" style="left:1853.02px;top:122.88px;font-size:14.5px;font-weight:700;color:#fff;transform:scaleX(0.8769);">3,591.780</span>
<span class="t" style="left:1853.02px;top:142.65px;font-size:14.5px;font-weight:700;color:#fff;transform:scaleX(0.8769);">3,586.545</span>
<span class="t" style="left:1853.02px;top:776.58px;font-size:14.5px;font-weight:700;color:#fff;transform:scaleX(0.8769);">3,419.178</span>
<span class="t" style="left:1853.02px;top:871.93px;font-size:14.5px;font-weight:700;color:#fff;transform:scaleX(0.8769);">3,394.305</span>
<span class="t" style="left:1853.02px;top:898.03px;font-size:14.5px;font-weight:700;color:#fff;transform:scaleX(0.8769);">3,387.166</span>
<span class="t" style="left:1853.02px;top:918.23px;font-size:14.5px;font-weight:700;color:#fff;transform:scaleX(0.8769);">3,385.885</span>
<span class="t" style="left:1853.02px;top:938.93px;font-size:14.5px;font-weight:700;color:#fff;transform:scaleX(0.8769);">3,384.789</span>
<span class="t" style="left:1853.02px;top:959.03px;font-size:14.5px;font-weight:700;color:#fff;transform:scaleX(0.8769);clip-path:inset(0 0 66% 0);">3,383.847</span>
<svg class="abs" style="left:400px;top:230px" width="380" height="100" viewBox="400 230 380 100"><path d="M417.5,317.6 C 520,262 662,224 762,258.5" fill="none" stroke="#111" stroke-width="1.3"/><path d="M767,260.5 L753.5,262.2 L757.5,257 L756,250.5 Z" fill="#111"/></svg><div class="abs" style="left:1157.6px;top:196.4px;width:1.2px;height:8px;background:#089981"></div>
</body></html>
